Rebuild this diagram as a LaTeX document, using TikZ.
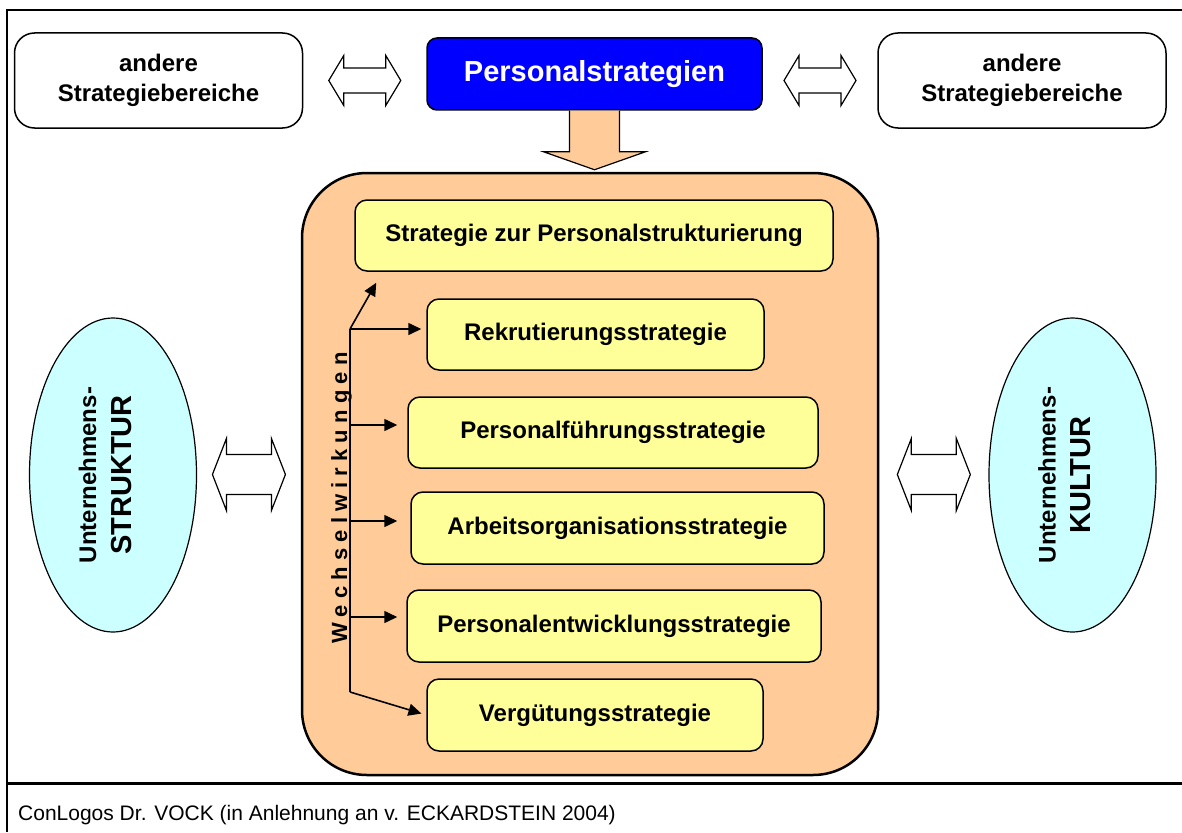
\documentclass[tikz,border=0pt]{standalone}
\usepackage{fontspec}
\setmainfont{Liberation Sans}
\usetikzlibrary{shapes.geometric,arrows.meta,calc}

\definecolor{psblue}{RGB}{0,0,255}
\definecolor{orangebg}{RGB}{255,204,153}
\definecolor{stratyellow}{RGB}{255,255,153}
\definecolor{ellcyan}{RGB}{204,255,255}

\tikzset{
  otherbox/.style={draw, line width=1.5pt, rounded corners=20pt, fill=white, align=center,
    inner sep=0pt, minimum width=288pt, minimum height=95pt,
    font=\fontsize{24}{30}\selectfont\bfseries},
  stratbox/.style={draw, line width=1.5pt, rounded corners=12pt, fill=stratyellow,
    inner sep=0pt, minimum height=71pt, font=\fontsize{24}{29}\selectfont\bfseries},
  envell/.style={draw, ellipse, line width=1.2pt, fill=ellcyan, rotate=90, align=center,
    inner sep=0pt, minimum width=314pt, minimum height=167pt, text depth=16pt,
    font=\fontsize{29}{35}\selectfont\bfseries},
  blockarr/.style={draw, line width=1.2pt, fill=white},
  wwarrow/.style={line width=1.6pt, -{Triangle[length=13pt,width=12pt]}}
}

% double block arrow: centre, half length, half head, half shaft, head length
\newcommand{\dblarrow}[5]{%
  \draw[blockarr] ($(#1)+(-#2,0)$) -- ($(#1)+(-#2+#5,-#3)$) -- ($(#1)+(-#2+#5,-#4)$)
    -- ($(#1)+(#2-#5,-#4)$) -- ($(#1)+(#2-#5,-#3)$) -- ($(#1)+(#2,0)$)
    -- ($(#1)+(#2-#5,#3)$) -- ($(#1)+(#2-#5,#4)$) -- ($(#1)+(-#2+#5,#4)$)
    -- ($(#1)+(-#2+#5,#3)$) -- cycle;}

\begin{document}
\begin{tikzpicture}[x=1pt,y=-1pt]
    \useasboundingbox (0,0) rectangle (1182,832);
    \draw[line width=2pt] (7,832) -- (7,10) -- (1182,10);
    \draw[line width=3pt] (7,783) -- (1182,783);

    \node[otherbox] (andL) at (158.5,80.5) {andere\\Strategiebereiche};
    \node[otherbox] (andR) at (1022,80.5) {andere\\Strategiebereiche};
    \node[draw, line width=1.5pt, rounded corners=10pt, fill=psblue, text=white, inner sep=0pt,
      minimum width=335pt, minimum height=72pt, font=\fontsize{29}{35}\selectfont\bfseries]
      (ps) at (594.5,74) {Personalstrategien};

    \coordinate (arrTL) at ($(andL.east)!0.5!(ps.west |- andL.east)$);
    \coordinate (arrTR) at ($(ps.east |- andR.west)!0.5!(andR.west)$);
    \dblarrow{arrTL}{36}{25}{12.5}{15}
    \dblarrow{arrTR}{36}{25}{12.5}{15}

    \node[draw, line width=2.5pt, rounded corners=65pt, fill=orangebg, minimum width=576pt,
      minimum height=602pt] (core) at (590,474) {};

    % Pfeil nach unten
    \draw[blockarr, fill=orangebg] ($(ps.south)+(-25,0)$) -- ++(0,41) -- ++(-26,0)
      -- ($(ps.south)+(0,59)$) -- ($(ps.south)+(51,41)$) -- ++(-26,0) -- ($(ps.south)+(25,0)$);

    \node[stratbox, minimum width=478pt] (s1) at (594,235.5) {Strategie zur Personalstrukturierung};
    \node[stratbox, minimum width=337pt] (s2) at (595.5,334.5) {Rekrutierungsstrategie};
    \node[stratbox, minimum width=410pt] (s3) at (613,432.5) {Personalführungsstrategie};
    \node[stratbox, minimum width=413pt, minimum height=72pt] (s4) at (617.5,528) {Arbeitsorganisationsstrategie};
    \node[stratbox, minimum width=414pt, minimum height=72pt] (s5) at (614,626) {Personalentwicklungsstrategie};
    \node[stratbox, minimum width=336pt, minimum height=72pt] (s6) at (595,715) {Vergütungsstrategie};

    \node[envell] (struk) at (113,475) {{\fontsize{24}{29}\selectfont Unternehmens-}\\STRUKTUR};
    \node[envell] (kult) at (1072.5,475) {{\fontsize{24}{29}\selectfont Unternehmens-}\\KULTUR};

    \coordinate (arrML) at ($(struk.south)!0.5!(core.west)$);
    \coordinate (arrMR) at ($(core.east)!0.5!(kult.north)$);
    \dblarrow{arrML}{36.5}{36}{20}{14}
    \dblarrow{arrMR}{36.5}{36}{20}{14}

    % Wechselwirkungen
    \coordinate (wwtop) at (350,329);
    \coordinate (wwbot) at (350,692);
    \draw[line width=1.6pt] (wwtop) -- (wwbot);
    \draw[wwarrow] (wwtop) -- ([xshift=22pt,yshift=-11pt]s1.south west);
    \draw[wwarrow, shorten >=5pt] (wwtop) -- (wwtop -| s2.west);
    \draw[wwarrow, shorten >=10pt] (350,425) -- (350,425 -| s3.west);
    \draw[wwarrow, shorten >=13pt] (350,521) -- (350,521 -| s4.west);
    \draw[wwarrow, shorten >=9pt] (350,617) -- (350,617 -| s5.west);
    \draw[wwarrow, shorten >=5pt] (wwbot) -- (s6.west);
    \node[rotate=90, anchor=base, inner sep=0pt, font=\fontsize{22}{26}\selectfont\bfseries]
      (wwtext) at (347,498) {\addfontfeatures{LetterSpace=28}Wechselwirkungen};

    \node[anchor=base west, inner sep=0pt, font=\fontsize{21}{25}\selectfont] (src) at (18,820)
      {ConLogos Dr. VOCK (in Anlehnung an v. ECKARDSTEIN 2004)};
\end{tikzpicture}
\end{document}
